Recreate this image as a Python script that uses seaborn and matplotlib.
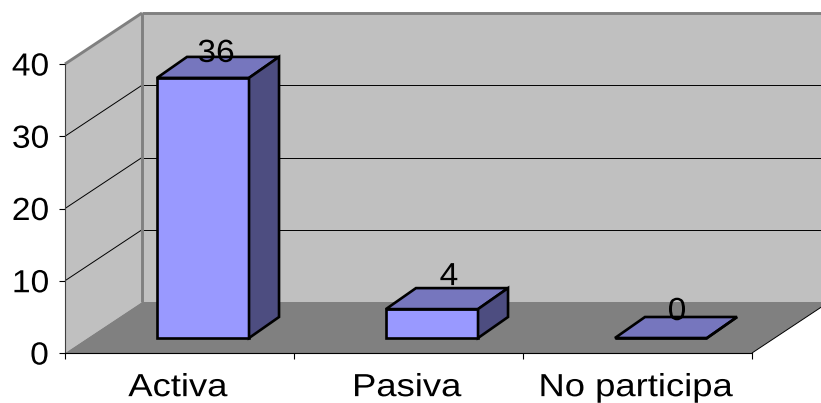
"""3D style column chart of participation type."""

import matplotlib
matplotlib.use("Agg")
import matplotlib.patheffects as pe
import matplotlib.pyplot as plt
import seaborn as sns
from matplotlib.patches import Polygon
from matplotlib.transforms import Affine2D, IdentityTransform

categories = ["Activa", "Pasiva", "No participa"]
values = [36, 4, 0]
y_ticks = [0, 10, 20, 30, 40]

WALL_DEPTH = (77, 51)  # pixels
BAR_DEPTH = (30, 21)
BAR_SHIFT = (23.5, 15)
LABEL_SHIFT = [(13, 16), (17, 24), (16, 18)]


class Stretch(pe.AbstractPathEffect):
    """Widen text about its own centre, the reference has loose letter spacing."""

    def __init__(self, factor, shift=0):
        super().__init__()
        self.factor = factor
        self.shift = shift

    def draw_path(self, renderer, gc, tpath, affine, rgbFace=None):
        ext = tpath.get_extents(affine)
        cx = (ext.x0 + ext.x1) / 2
        wide = affine + Affine2D().translate(-cx, 0).scale(self.factor, 1).translate(cx + self.shift, 0)
        renderer.draw_path(gc, tpath, wide, rgbFace)


def add_poly(ax, points, face, edge="none", lw=0, zorder=1):
    ax.add_patch(Polygon(points, closed=True, facecolor=face, edgecolor=edge, linewidth=lw,
                         transform=IdentityTransform(), clip_on=False, zorder=zorder,
                         joinstyle="miter"))


def add_line(ax, p0, p1, color, lw, zorder=1.2):
    ax.plot([p0[0], p1[0]], [p0[1], p1[1]], color=color, lw=lw, transform=IdentityTransform(),
            clip_on=False, zorder=zorder, solid_capstyle="butt")


sns.set_style("white")
plt.rcParams["font.family"] = ["Liberation Sans", "DejaVu Sans"]

W, H = 821, 403
fig = plt.figure(figsize=(W / 100, H / 100), dpi=100)
ax = fig.add_axes([65 / W, (H - 353) / H, 687 / W, 289 / H])
ax.patch.set_visible(False)

sns.barplot(x=categories, y=values, color="#9999FF", saturation=1, width=0.402,
            edgecolor="black", linewidth=1.9, ax=ax, zorder=3)
ax.set_xlim(-0.5, 2.5)
ax.set_ylim(0, 40)
fig.canvas.draw()

# walls and floor, all derived from the axes box
dx, dy = WALL_DEPTH
x0, y0 = ax.transData.transform((-0.5, 0))
x1, y1 = ax.transData.transform((2.5, 40))
add_poly(ax, [(x0, y0), (x0 + dx, y0 + dy), (x0 + dx, y1 + dy), (x0, y1)], "#C0C0C0")
add_poly(ax, [(x0 + dx, y0 + dy), (x1 + dx, y0 + dy), (x1 + dx, y1 + dy), (x0 + dx, y1 + dy)], "#C0C0C0")
add_poly(ax, [(x0, y0), (x1, y0), (x1 + dx, y0 + dy), (x0 + dx, y0 + dy)], "#808080")

for t in y_ticks[1:-1]:
    _, y = ax.transData.transform((0, t))
    add_line(ax, (x0, y), (x0 + dx, y + dy), "black", 0.7)
    add_line(ax, (x0 + dx, y + dy), (x1 + dx, y + dy), "black", 0.7)

add_line(ax, (x0, y1), (x0 + dx, y1 + dy), "#808080", 2.1)
add_line(ax, (x0 + dx, y1 + dy), (x1 + dx, y1 + dy), "#808080", 2.1)
add_line(ax, (x0 + dx, y1 + dy), (x0 + dx, y0 + dy), "#808080", 2.1)
add_line(ax, (x1, y0), (x1 + dx, y0 + dy), "black", 0.7)

# shift the columns into the room and give them depth
shift = Affine2D().translate(*BAR_SHIFT)
bdx, bdy = BAR_DEPTH
for bar, shift_xy, value in zip(ax.patches, LABEL_SHIFT, values):
    bar.set_transform(ax.transData + shift)
    bar.set_clip_on(False)
    bar.set_joinstyle("miter")
    box = bar.get_extents()
    left, right, bottom, top = box.x0, box.x1, box.y0, box.y1
    add_poly(ax, [(left, top), (right, top), (right + bdx, top + bdy), (left + bdx, top + bdy)],
             "#7676BE", "black", 1.9, zorder=3)
    add_poly(ax, [(right, bottom), (right + bdx, bottom + bdy), (right + bdx, top + bdy), (right, top)],
             "#4D4D80", "black", 1.9, zorder=3)
    ax.text((left + right) / 2 + shift_xy[0], top + shift_xy[1], str(value),
            transform=IdentityTransform(), ha="center", va="baseline", fontsize=23, color="black",
            zorder=4, path_effects=[Stretch(1.05)])

ax.set_yticks(y_ticks)
ax.set_xticks([-0.5, 0.5, 1.5, 2.5], minor=True)
ax.tick_params(axis="y", left=True, length=4, width=0.8, color="black", labelsize=23, pad=8,
               labelcolor="black")
ax.tick_params(axis="x", which="major", bottom=False, length=0, labelsize=23, pad=14.5,
               labelcolor="black")
ax.tick_params(axis="x", which="minor", bottom=True, length=4, width=0.8, color="black")
for label in ax.get_yticklabels():
    label.set_path_effects([Stretch(1.05)])
for label in ax.get_xticklabels():
    label.set_path_effects([Stretch(1.14, shift=-1.5)])

sns.despine(ax=ax, top=True, right=True)
for side in ("left", "bottom"):
    ax.spines[side].set_color("black")
    ax.spines[side].set_linewidth(0.8)
ax.spines["left"].set_color("#404040")
ax.set_xlabel("")
ax.set_ylabel("")

fig.savefig("out.png", dpi=100)
plt.close(fig)
